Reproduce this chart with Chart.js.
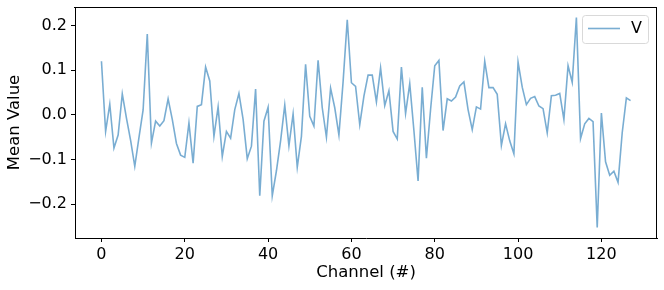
<!DOCTYPE html>
<html>
<head>
<meta charset="utf-8">
<script src="https://cdn.jsdelivr.net/npm/chart.js@4/dist/chart.umd.min.js"></script>
<style>
  html, body { margin: 0; padding: 0; background: #fff; }
  #wrap { width: 664px; height: 290px; position: relative; }
</style>
</head>
<body>
<div id="wrap"><canvas id="c" width="664" height="290"></canvas></div>
<script>
const channels = Array.from({length: 128}, (_, i) => i);
const meanValues = [
  0.120, -0.037, 0.024, -0.074, -0.045, 0.047, -0.007, -0.057, -0.115, -0.051,
  0.011, 0.181, -0.063, -0.014, -0.025, -0.013, 0.036, -0.010, -0.064, -0.090,
  -0.095, -0.018, -0.108, 0.019, 0.023, 0.107, 0.076, -0.048, 0.018, -0.093,
  -0.037, -0.052, 0.012, 0.048, -0.010, -0.098, -0.070, 0.058, -0.181, -0.014,
  0.017, -0.181, -0.125, -0.058, 0.022, -0.069, 0.002, -0.117, -0.048, 0.113,
  -0.003, -0.025, 0.122, 0.016, -0.050, 0.060, 0.016, -0.045, 0.074, 0.213,
  0.072, 0.064, -0.022, 0.042, 0.089, 0.089, 0.029, 0.105, 0.021, 0.054,
  -0.037, -0.054, 0.107, 0.003, 0.070, -0.035, -0.148, 0.062, -0.097, 0.012,
  0.110, 0.122, -0.035, 0.036, 0.031, 0.040, 0.065, 0.074, 0.012, -0.033,
  0.018, 0.013, 0.120, 0.061, 0.061, 0.046, -0.068, -0.020, -0.058, -0.087,
  0.118, 0.062, 0.023, 0.037, 0.041, 0.020, 0.014, -0.040, 0.043, 0.044,
  0.048, -0.010, 0.110, 0.073, 0.218, -0.053, -0.020, -0.008, -0.015, -0.252,
  0.004, -0.105, -0.135, -0.126, -0.151, -0.040, 0.038, 0.032
];
const xTicks = [0, 20, 40, 60, 80, 100, 120];
const yTicks = [-0.2, -0.1, 0.0, 0.1, 0.2];
const seriesLabel = 'V';
const xTitle = 'Channel (#)';
const yTitle = 'Mean Value';

const FONT = "'DejaVu Sans', sans-serif";
const LINE_COLOR = 'rgba(31,119,180,0.6)';

function fmtY(v) {
  const s = Math.abs(v).toFixed(1);
  return (v < -1e-9 ? '\u2212' : '') + s;
}

const framePlugin = {
  id: 'frame',
  afterDraw(chart) {
    const {ctx, chartArea: a} = chart;
    const L = Math.round(a.left), T = Math.round(a.top);
    const R = Math.round(a.right), B = Math.round(a.bottom);
    ctx.save();
    ctx.fillStyle = '#000';
    ctx.fillRect(L - 1, T, R - L + 1, 1);      // top spine
    ctx.fillRect(R - 1, T, 1, B - T + 1);      // right spine
    // legend
    const ds = chart.data.datasets[0];
    const bx = R - 75, by = T + 8, bw = 66, bh = 28;
    ctx.fillStyle = 'rgba(255,255,255,0.8)';
    ctx.strokeStyle = '#d9d9d9';
    ctx.lineWidth = 1;
    ctx.beginPath();
    ctx.roundRect(bx + 0.5, by + 0.5, bw, bh, 3);
    ctx.fill();
    ctx.stroke();
    ctx.strokeStyle = ds.borderColor;
    ctx.lineWidth = 1.6;
    ctx.beginPath();
    ctx.moveTo(bx + 6, by + 13.5);
    ctx.lineTo(bx + 38, by + 13.5);
    ctx.stroke();
    ctx.fillStyle = '#000';
    ctx.font = '16px ' + FONT;
    ctx.textBaseline = 'middle';
    ctx.textAlign = 'left';
    ctx.fillText(ds.label, bx + 49, by + 14);
    ctx.restore();
  }
};

new Chart(document.getElementById('c'), {
  type: 'line',
  data: {
    labels: channels,
    datasets: [{
      label: seriesLabel,
      data: channels.map((x, i) => ({x: x, y: meanValues[i]})),
      borderColor: LINE_COLOR,
      borderWidth: 1.6,
      pointRadius: 0,
      fill: false,
      tension: 0
    }]
  },
  options: {
    responsive: false,
    animation: false,
    devicePixelRatio: 1,
    layout: { padding: { top: 7, right: 7, left: 0, bottom: 0 } },
    plugins: { legend: { display: false }, tooltip: { enabled: false } },
    scales: {
      x: {
        type: 'linear',
        min: -6.35, max: 133.35,
        afterBuildTicks(s) { s.ticks = xTicks.map(v => ({value: v})); },
        afterFit(s) { s.height = 52; s.paddingLeft = 0; s.paddingRight = 0; },
        grid: { drawOnChartArea: false, drawTicks: true, tickLength: 4, color: '#000', lineWidth: 1 },
        border: { display: true, color: '#000', width: 1 },
        ticks: { color: '#000', font: { family: FONT, size: 16 }, padding: 3, maxRotation: 0,
                 callback: v => String(v) },
        title: { display: true, text: xTitle, color: '#000', font: { family: FONT, size: 16.5 },
                 padding: { top: 0, bottom: 7 } }
      },
      y: {
        type: 'linear',
        min: -0.2755, max: 0.2415,
        afterBuildTicks(s) { s.ticks = yTicks.map(v => ({value: v})); },
        afterFit(s) { s.width = 75; s.paddingTop = 0; s.paddingBottom = 0; },
        grid: { drawOnChartArea: false, drawTicks: true, tickLength: 4, color: '#000', lineWidth: 1 },
        border: { display: true, color: '#000', width: 1 },
        ticks: { color: '#000', font: { family: FONT, size: 16 }, padding: 4,
                 callback: v => fmtY(v) },
        title: { display: true, text: yTitle, color: '#000', font: { family: FONT, size: 16.5 },
                 padding: { top: 5, bottom: 0 } }
      }
    }
  },
  plugins: [framePlugin]
});
</script>
</body>
</html>
